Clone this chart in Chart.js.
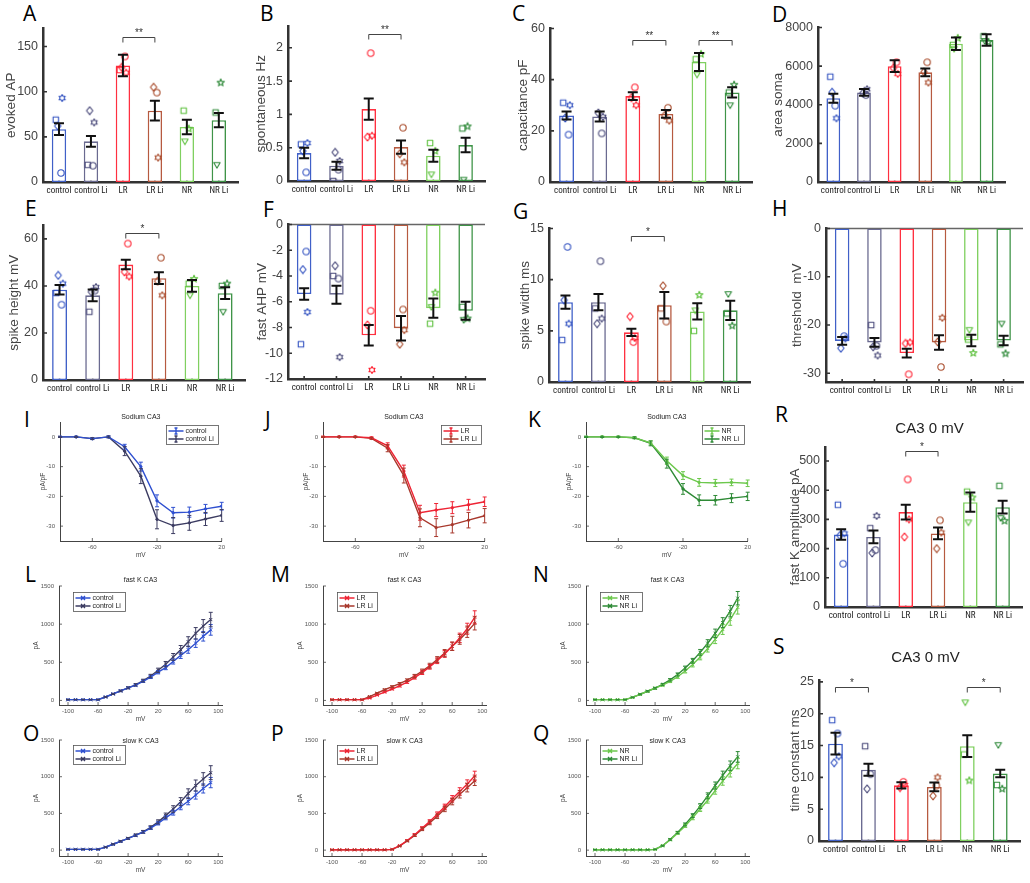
<!DOCTYPE html>
<html>
<head>
<meta charset="utf-8">
<title>CA3 electrophysiology</title>
<script src="https://cdn.jsdelivr.net/npm/chart.js@4.4.1/dist/chart.umd.min.js"></script>
<style>
  body { margin: 0; background: #fff; }
  #fig { position: relative; width: 1030px; height: 883px; overflow: hidden; }
  #fig canvas { position: absolute; }
  .lt { position: absolute; font: 21px/1 'Open Sans', sans-serif; color: #000; }
</style>
</head>
<body>
<div id="fig">
  <div class="lt" style="left:23px;top:3px">A</div>
  <div class="lt" style="left:260px;top:3px">B</div>
  <div class="lt" style="left:512px;top:3px">C</div>
  <div class="lt" style="left:772px;top:4px">D</div>
  <div class="lt" style="left:25px;top:198px">E</div>
  <div class="lt" style="left:263px;top:199px">F</div>
  <div class="lt" style="left:513px;top:201px">G</div>
  <div class="lt" style="left:772px;top:198px">H</div>
  <div class="lt" style="left:24px;top:409px">I</div>
  <div class="lt" style="left:265px;top:409px">J</div>
  <div class="lt" style="left:528px;top:409px">K</div>
  <div class="lt" style="left:25px;top:564px">L</div>
  <div class="lt" style="left:271px;top:564px">M</div>
  <div class="lt" style="left:533px;top:564px">N</div>
  <div class="lt" style="left:23px;top:723px">O</div>
  <div class="lt" style="left:271px;top:723px">P</div>
  <div class="lt" style="left:533px;top:723px">Q</div>
  <div class="lt" style="left:775px;top:404px">R</div>
  <div class="lt" style="left:773px;top:636px">S</div>
</div>
<script>
const groups = ['control', 'control Li', 'LR', 'LR Li', 'NR', 'NR Li'];
const barColors = ['#4060c8', '#6a6a90', '#ff3040', '#b65a40', '#80d060', '#3f9448'];
const markColors = ['#3050c0', '#474778', '#ff2030', '#a84a2a', '#5cc03c', '#2f8a3a'];
// marker of each recorded cell, same order as the values in the *Cells arrays
const cellShapes = [['o', 's', 'd', 'h'], ['o', 's', 'd', 'h'], ['o', 's', 'd', 'h'], ['o', 's', 'd', 'h'], ['s', 'v', 'p'], ['s', 'v', 'p']];

// A evoked AP
const apMean = [58.5, 45, 129, 79, 61, 68.5];
const apSem = [6.5, 6, 12, 11, 8, 8];
const apCells = [[10, 69, 62, 93], [18, 19, 79, 66], [139, 124, 127, 121], [99, null, 105, 27], [79, 45, 59], [77, 19, 110]];
// B spontaneous Hz
const hzMean = [0.42, 0.23, 1.08, 0.51, 0.38, 0.54];
const hzSem = [0.08, 0.06, 0.16, 0.1, 0.09, 0.11];
const hzCells = [[0.13, 0.55, 0.45, 0.57], [0.17, 0, 0.43, 0.3], [1.92, null, 0.66, 0.68], [0.8, null, 0.41, 0.28], [0.57, 0.1, 0.45], [0.79, 0.02, 0.82]];
// C capacitance pF
const capMean = [26, 25.6, 33.6, 26.6, 46.9, 35];
const capSem = [1.6, 2, 1.5, 1.5, 3.5, 2];
const capCells = [[18.5, 31, 25, 30], [19, null, 27, 25.5], [37, null, 33, 30], [29, null, 26, 24], [48, 42, 50], [35, 30, 38]];
// D area soma
const somaMean = [4340, 4640, 6000, 5680, 7160, 7350];
const somaSem = [230, 180, 300, 200, 320, 300];
const somaCells = [[3950, 5450, 4650, 3300], [4500, null, 4600, 4800], [6200, null, 5900, 5600], [6200, null, 5700, 5150], [7100, 6900, 7450], [7550, 7300, 7250]];
// E spike height mV
const heightMean = [38.4, 36, 49.1, 43.3, 40, 36.9];
const heightSem = [2, 2.5, 2, 2.5, 2.5, 2.5];
const heightCells = [[32, 37, 44.5, 41], [38, 29, 37.5, 39.5], [58, null, 46, 44], [52, null, 42, 36], [41, 36, 43], [40, 29, 41]];
// F fast AHP mV
const ahpMean = [-5.4, -5.45, -8.6, -8.05, -6.5, -6.7];
const ahpSem = [0.45, 0.7, 0.8, 0.95, 0.75, 0.7];
const ahpCells = [[-2.1, -9.3, -3.5, -6.8], [-4.2, -4.0, -3.2, -10.3], [-6.7, null, -7.8, -11.3], [-6.6, null, -9.3, -8.2], [-7.7, -6.4, -5.3], [-6.4, -7.4, -7.3]];
// G spike width ms
const widthMean = [7.8, 7.8, 4.85, 7.5, 6.9, 7.0];
const widthSem = [0.65, 0.8, 0.35, 1.3, 0.8, 0.95];
const widthCells = [[13.2, 4.1, 8.0, 5.7], [11.8, 7.2, 5.7, 6.2], [3.9, null, 6.4, 4.3], [5.9, 7.2, 9.4, null], [5.0, 7.0, 8.5], [6.7, 8.6, 5.5]];
// H threshold mV
const threshMean = [-23.3, -23.6, -25.8, -23.6, -23.2, -23.2];
const threshSem = [0.8, 0.9, 0.9, 1.5, 1.2, 1.0];
const threshCells = [[-22.3, null, -24.8, -22.8], [-24.3, -20, -24.5, -26.3], [-30.2, null, -23.8, -23.6], [-28.7, null, -23.5, -18.5], [-23, -21, -25.8], [-24, -19.7, -25.9]];
// R fast K amplitude pA
const fkAmpMean = [248, 240, 325, 252, 359, 342];
const fkAmpSem = [18, 22, 25, 20, 33, 22];
const fkAmpCells = [[148, 350, 245, 252], [195, 270, 185, 312], [437, null, 240, 300], [297, null, 200, 255], [395, 290, 375], [415, 305, 295]];
// S time constant ms
const tauMean = [15.3, 11.2, 8.75, 8.5, 14.9, 10.6];
const tauSem = [1.7, 0.95, 0.5, 0.7, 1.7, 0.6];
const tauCells = [[16.9, 19, 12.3, 13.3], [10.5, 14.9, 8.2, null], [9.3, null, 8.4, 8.8], [8.7, null, 7.1, 10], [13.6, 21.8, 9.5], [8.8, 15.1, 8.2]];

// I-K sodium current density (pA/pF)
const naV = [-80, -70, -60, -50, -40, -30, -20, -10, 0, 10, 20];
const naControl = [0, 0, -0.6, 0, -3.3, -10, -21.5, -25.5, -25.3, -24.2, -23.3];
const naControlErr = [0.2, 0.2, 0.3, 0.3, 0.8, 1.5, 2, 1.8, 1.7, 1.5, 1.3];
const naControlLi = [0, 0, -0.6, 0, -4.8, -13.2, -27.7, -29.8, -28.9, -27.6, -26.4];
const naControlLiErr = [0.2, 0.2, 0.3, 0.3, 1.5, 2.5, 3.2, 2.7, 2.5, 2.2, 2];
const naLR = [0, 0, 0, -0.3, -3, -11.5, -25.5, -24.6, -23.8, -22.8, -21.8];
const naLRErr = [0.2, 0.2, 0.2, 0.3, 1, 2, 2.5, 2.2, 2, 1.8, 1.6];
const naLRLi = [0, 0, 0, -0.5, -3.8, -13, -27.2, -30.5, -29.5, -28, -26.5];
const naLRLiErr = [0.2, 0.2, 0.2, 0.3, 1.2, 2.5, 3, 3, 2.8, 2.6, 2.4];
const naNR = [0, 0, 0, -0.3, -2, -8, -13, -15.3, -15.5, -15.3, -15.6];
const naNRErr = [0.2, 0.2, 0.2, 0.3, 0.7, 1.2, 1.3, 1.3, 1.2, 1.1, 1.1];
const naNRLi = [0, 0, 0, -0.3, -2.2, -9, -17.5, -21.3, -21.3, -20.6, -20];
const naNRLiErr = [0.2, 0.2, 0.2, 0.3, 0.8, 1.5, 1.8, 1.8, 1.6, 1.5, 1.4];

// L-Q potassium currents (pA)
const kV = [-100, -90, -80, -70, -60, -50, -40, -30, -20, -10, 0, 10, 20, 30, 40, 50, 60, 70, 80, 90];
const fkControl = [10, 10, 10, 10, 10, 45, 85, 125, 165, 200, 250, 305, 370, 430, 510, 590, 665, 750, 840, 925];
const fkControlErr = [3, 3, 3, 3, 3, 5, 7, 9, 11, 13, 15, 18, 22, 27, 33, 40, 47, 55, 62, 70];
const fkControlLi = [10, 10, 10, 10, 10, 45, 85, 125, 165, 205, 260, 320, 395, 475, 570, 665, 770, 880, 975, 1060];
const fkControlLiErr = [3, 3, 3, 3, 3, 5, 8, 10, 12, 15, 18, 22, 28, 35, 45, 55, 65, 75, 85, 95];
const fkLR = [10, 10, 10, 10, 10, 30, 70, 110, 150, 190, 240, 300, 365, 440, 520, 610, 710, 820, 940, 1090];
const fkLRErr = [3, 3, 3, 3, 3, 5, 7, 9, 11, 13, 16, 20, 25, 30, 37, 45, 53, 62, 72, 85];
const fkLRLi = [10, 10, 10, 10, 10, 50, 95, 140, 180, 220, 265, 320, 385, 455, 535, 620, 710, 800, 900, 1010];
const fkLRLiErr = [3, 3, 3, 3, 3, 6, 8, 10, 12, 14, 17, 21, 26, 32, 39, 47, 55, 64, 74, 86];
const fkNR = [10, 10, 10, 10, 10, 40, 80, 120, 160, 200, 250, 310, 385, 470, 570, 680, 800, 930, 1060, 1220];
const fkNRErr = [3, 3, 3, 3, 3, 5, 7, 9, 11, 13, 16, 20, 25, 31, 38, 46, 55, 65, 75, 88];
const fkNRLi = [10, 10, 10, 10, 10, 40, 80, 120, 160, 210, 270, 340, 425, 520, 630, 750, 880, 1020, 1170, 1340];
const fkNRLiErr = [3, 3, 3, 3, 3, 5, 7, 9, 11, 13, 16, 20, 25, 31, 38, 46, 55, 65, 75, 88];
const skControl = [10, 10, 10, 10, 10, 40, 80, 120, 160, 200, 245, 300, 365, 440, 510, 590, 665, 750, 840, 920];
const skControlErr = [3, 3, 3, 3, 3, 5, 7, 9, 11, 13, 15, 18, 22, 27, 33, 40, 47, 55, 62, 70];
const skControlLi = [10, 10, 10, 10, 10, 40, 80, 120, 160, 205, 250, 310, 385, 470, 560, 660, 770, 880, 970, 1055];
const skControlLiErr = [3, 3, 3, 3, 3, 5, 8, 10, 12, 15, 18, 22, 28, 35, 45, 55, 65, 75, 85, 95];
const skLR = [5, 5, 5, 5, 5, 5, 5, 5, 10, 60, 130, 210, 300, 390, 490, 590, 700, 800, 900, 1010];
const skLRErr = [2, 2, 2, 2, 2, 2, 2, 2, 3, 6, 10, 14, 19, 24, 30, 36, 43, 50, 57, 65];
const skLRLi = [5, 5, 5, 5, 5, 5, 5, 5, 10, 55, 125, 200, 285, 370, 460, 560, 660, 760, 850, 945];
const skLRLiErr = [2, 2, 2, 2, 2, 2, 2, 2, 3, 6, 10, 14, 19, 24, 30, 36, 43, 50, 57, 65];
const skNR = [5, 5, 5, 5, 5, 5, 5, 5, 10, 60, 140, 230, 330, 440, 560, 680, 810, 940, 1060, 1180];
const skNRErr = [2, 2, 2, 2, 2, 2, 2, 2, 3, 6, 10, 15, 20, 26, 33, 40, 48, 56, 64, 72];
const skNRLi = [5, 5, 5, 5, 5, 5, 5, 5, 10, 60, 145, 240, 350, 470, 600, 740, 880, 1020, 1150, 1270];
const skNRLiErr = [2, 2, 2, 2, 2, 2, 2, 2, 3, 6, 10, 15, 20, 26, 33, 40, 48, 56, 64, 72];

const lineColors = {'control': '#2f50d0', 'control Li': '#3c3c62', 'LR': '#ee2434', 'LR Li': '#a8382c', 'NR': '#6cc84c', 'NR Li': '#2e8a36'};
const jitter = {o: 0.06, s: -0.1, d: -0.04, h: 0.1, v: -0.06, p: 0.06};
const AX = '#333';
const FONT = "'Liberation Sans', Arial, sans-serif";
const NARROW = "'Liberation Sans Narrow', 'Roboto Condensed', Roboto, sans-serif";

Chart.defaults.font.family = FONT;
Chart.defaults.animation = false;
Chart.defaults.events = [];
Chart.defaults.plugins.legend.display = false;
Chart.defaults.plugins.tooltip.enabled = false;

const fig = document.getElementById('fig');

function place(left, top, w, h) {
    const cv = document.createElement('canvas');
    cv.width = w;
    cv.height = h;
    cv.style.left = left + 'px';
    cv.style.top = top + 'px';
    cv.style.width = w + 'px';
    cv.style.height = h + 'px';
    fig.appendChild(cv);
    return cv;
}

function starPath(g, cx, cy, n, ro, ri) {
    for (let k = 0; k < 2 * n; k++) {
        const a = -Math.PI / 2 + k * Math.PI / n;
        const r = k % 2 ? ri : ro;
        const px = cx + r * Math.cos(a), py = cy + r * Math.sin(a);
        k ? g.lineTo(px, py) : g.moveTo(px, py);
    }
    g.closePath();
}

// small MATLAB-like open markers drawn once and handed to Chart.js as point images
function marker(shape, color) {
    const c = document.createElement('canvas');
    c.width = c.height = 10;
    const g = c.getContext('2d');
    const m = 5, r = 3.2;
    g.strokeStyle = color;
    g.lineWidth = 1.1;
    g.lineJoin = 'round';
    g.beginPath();
    if (shape === 'o') g.arc(m, m, r, 0, 2 * Math.PI);
    else if (shape === 's') g.rect(m - r + 0.5, m - r + 0.5, 2 * r - 1, 2 * r - 1);
    else if (shape === 'd') {
        g.moveTo(m, m - r - 0.6); g.lineTo(m + r, m); g.lineTo(m, m + r + 0.6); g.lineTo(m - r, m); g.closePath();
    } else if (shape === 'v') {
        g.moveTo(m - r, m - r * 0.7); g.lineTo(m + r, m - r * 0.7); g.lineTo(m, m + r); g.closePath();
    } else if (shape === 'h') starPath(g, m, m, 6, r + 0.3, (r + 0.3) * 0.58);
    else if (shape === 'p') starPath(g, m, m, 5, r + 0.6, (r + 0.6) * 0.42);
    g.stroke();
    return c;
}

function barDecor(p) {
    return {
        id: 'barDecor',
        beforeDatasetsDraw(chart) {
            const {ctx, chartArea: a, scales: {x, y}} = chart;
            ctx.save();
            if (p.min < 0) {
                ctx.strokeStyle = '#666';
                ctx.lineWidth = 1.3;
                const z = y.getPixelForValue(0);
                ctx.beginPath(); ctx.moveTo(a.left, z); ctx.lineTo(a.right, z); ctx.stroke();
            }
            ctx.strokeStyle = AX;
            ctx.lineWidth = 1.6;
            ctx.beginPath();
            p.ticks.forEach(v => {
                const py = y.getPixelForValue(v);
                ctx.moveTo(a.left, py); ctx.lineTo(a.left + 4, py);
            });
            groups.forEach((g, i) => {
                const px = x.getPixelForValue(i + 1);
                ctx.moveTo(px, a.bottom); ctx.lineTo(px, a.bottom - 3);
            });
            ctx.stroke();
            ctx.restore();
        },
        afterDatasetsDraw(chart) {
            const {ctx, chartArea: a, scales: {x, y}} = chart;
            ctx.save();
            // error bars (SEM)
            ctx.strokeStyle = '#111';
            ctx.lineWidth = 2;
            ctx.beginPath();
            p.mean.forEach((m, i) => {
                const px = x.getPixelForValue(i + 1);
                const t = y.getPixelForValue(m + p.sem[i]), b = y.getPixelForValue(m - p.sem[i]);
                ctx.moveTo(px, t); ctx.lineTo(px, b);
                ctx.moveTo(px - 5, t); ctx.lineTo(px + 5, t);
                ctx.moveTo(px - 5, b); ctx.lineTo(px + 5, b);
            });
            ctx.stroke();
            // significance brackets
            ctx.strokeStyle = '#444';
            ctx.fillStyle = '#333';
            ctx.lineWidth = 1;
            ctx.font = '10px ' + FONT;
            ctx.textAlign = 'center';
            ctx.textBaseline = 'alphabetic';
            (p.brackets || []).forEach(([g1, g2, v, txt]) => {
                const x1 = x.getPixelForValue(g1), x2 = x.getPixelForValue(g2), py = Math.round(y.getPixelForValue(v)) + 0.5;
                ctx.beginPath();
                ctx.moveTo(x1, py + 5); ctx.lineTo(x1, py); ctx.lineTo(x2, py); ctx.lineTo(x2, py + 5);
                ctx.stroke();
                ctx.fillText(txt, (x1 + x2) / 2, py - 2);
            });
            if (p.title) {
                ctx.fillStyle = '#222';
                ctx.font = '15px ' + FONT;
                ctx.textBaseline = 'middle';
                ctx.fillText(p.title, (a.left + a.right) / 2 + 6, a.top - p.titleOff);
            }
            ctx.restore();
        }
    };
}

function barPanel(p) {
    const TOP = p.title ? 32 : 6, XH = 17, RP = 5;
    const w = p.x1 - p.x0 + p.yw + RP, h = p.y1 - p.y0 + TOP + XH;
    const cv = place(p.x0 - p.yw, p.y0 - TOP, w, h);
    const datasets = [{
        type: 'bar',
        order: 2,
        data: p.mean.map((m, i) => ({x: i + 1, y: m})),
        backgroundColor: '#fff',
        borderColor: barColors,
        borderWidth: 1.6,
        borderSkipped: false,
        barPercentage: 0.45,
        categoryPercentage: 1
    }];
    p.cells.forEach((vals, g) => {
        const data = [], style = [];
        vals.forEach((v, k) => {
            if (v === null) return;
            const sh = cellShapes[g][k];
            data.push({x: g + 1 + jitter[sh], y: v});
            style.push(marker(sh, markColors[g]));
        });
        datasets.push({type: 'scatter', order: 1, data, pointStyle: style, pointRadius: 4, borderWidth: 0});
    });
    new Chart(cv, {
        type: 'bar',
        data: {datasets},
        options: {
            responsive: false,
            layout: {padding: {top: TOP, right: RP, left: 0, bottom: 0}},
            scales: {
                x: {
                    type: 'linear', min: 0.5, max: 6.6, offset: false,
                    grid: {display: false, drawTicks: false, offset: false},
                    border: {display: true, color: AX, width: 2.5},
                    afterBuildTicks: s => { s.ticks = groups.map((g, i) => ({value: i + 1})); },
                    afterFit: s => { s.height = XH; },
                    ticks: {
                        callback: v => groups[v - 1], color: '#222', padding: 3,
                        font: {size: 9, family: NARROW}, maxRotation: 0, autoSkip: false
                    }
                },
                y: {
                    min: p.min, max: p.max,
                    grid: {display: false, drawTicks: false},
                    border: {display: true, color: AX, width: 2.5},
                    afterBuildTicks: s => { s.ticks = p.ticks.map(v => ({value: v})); },
                    afterFit: s => { s.width = p.yw; },
                    ticks: {callback: v => String(v), color: '#444', padding: 5, font: {size: 12.5}},
                    title: {display: true, text: p.label, color: '#444', padding: 0, font: {size: 13.5}}
                }
            }
        },
        plugins: [barDecor(p)]
    });
}

function lineDecor(p) {
    return {
        id: 'lineDecor',
        beforeDatasetsDraw(chart) {
            const {ctx, chartArea: a, scales: {x, y}} = chart;
            ctx.save();
            ctx.strokeStyle = '#444';
            ctx.lineWidth = 0.8;
            ctx.beginPath();
            p.yticks.forEach(v => { const py = y.getPixelForValue(v); ctx.moveTo(a.left, py); ctx.lineTo(a.left + 3, py); });
            p.xticks.forEach(v => { const px = x.getPixelForValue(v); ctx.moveTo(px, a.bottom); ctx.lineTo(px, a.bottom - 3); });
            ctx.stroke();
            ctx.restore();
        },
        afterDatasetsDraw(chart) {
            const {ctx, chartArea: a, scales: {x, y}} = chart;
            ctx.save();
            chart.data.datasets.forEach(ds => {
                ctx.strokeStyle = ds.borderColor;
                ctx.lineWidth = 1;
                ctx.beginPath();
                ds.data.forEach((pt, i) => {
                    const px = x.getPixelForValue(pt.x), e = ds.err[i];
                    const t = y.getPixelForValue(pt.y + e), b = y.getPixelForValue(pt.y - e);
                    ctx.moveTo(px, t); ctx.lineTo(px, b);
                    ctx.moveTo(px - 2, t); ctx.lineTo(px + 2, t);
                    ctx.moveTo(px - 2, b); ctx.lineTo(px + 2, b);
                });
                ctx.stroke();
            });
            // title
            ctx.fillStyle = '#222';
            ctx.font = '7px ' + FONT;
            ctx.textAlign = 'center';
            ctx.textBaseline = 'middle';
            ctx.fillText(p.title, (a.left + a.right) / 2, a.top + p.titleOff);
            // legend box
            ctx.textAlign = 'left';
            const tw = Math.max(...p.series.map(s => ctx.measureText(s.label).width));
            const bw = Math.round(20 + tw + 4), bh = p.series.length * 8 + 3;
            const bx = Math.round(p.legendRight ? a.right - 4 - bw : a.left + 14) + 0.5;
            const by = Math.round(a.top + p.legendTop) + 0.5;
            ctx.fillStyle = '#fff';
            ctx.fillRect(bx, by, bw, bh);
            ctx.strokeStyle = '#555';
            ctx.lineWidth = 0.8;
            ctx.strokeRect(bx, by, bw, bh);
            p.series.forEach((s, i) => {
                const ly = by + 5.5 + i * 8;
                ctx.strokeStyle = s.color;
                ctx.lineWidth = 1.4;
                ctx.beginPath();
                ctx.moveTo(bx + 2, ly); ctx.lineTo(bx + 17, ly);
                if (p.pointStyle === 'crossRot') {
                    ctx.moveTo(bx + 7.5, ly - 2); ctx.lineTo(bx + 11.5, ly + 2);
                    ctx.moveTo(bx + 7.5, ly + 2); ctx.lineTo(bx + 11.5, ly - 2);
                } else {
                    ctx.moveTo(bx + 9.5, ly - 3); ctx.lineTo(bx + 9.5, ly + 3);
                    ctx.moveTo(bx + 8, ly - 3); ctx.lineTo(bx + 11, ly - 3);
                    ctx.moveTo(bx + 8, ly + 3); ctx.lineTo(bx + 11, ly + 3);
                }
                ctx.stroke();
                ctx.fillStyle = '#222';
                ctx.fillText(s.label, bx + 19, ly);
            });
            ctx.restore();
        }
    };
}

function linePanel(p) {
    const TOP = 14, XH = 18, RP = 6;
    const w = p.x1 - p.x0 + p.yw + RP, h = p.y1 - p.y0 + TOP + XH;
    const cv = place(p.x0 - p.yw, p.y0 - TOP, w, h);
    const datasets = p.series.map(s => ({
        label: s.label,
        data: p.xs.map((v, i) => ({x: v, y: s.y[i]})),
        err: s.err,
        borderColor: s.color,
        backgroundColor: s.color,
        borderWidth: 1.4,
        pointStyle: p.pointStyle,
        pointRadius: p.pointRadius,
        pointBorderWidth: 1,
        tension: 0
    }));
    const axisFont = {size: 6};
    new Chart(cv, {
        type: 'line',
        data: {datasets},
        options: {
            responsive: false,
            layout: {padding: {top: TOP, right: RP, left: 0, bottom: 0}},
            scales: {
                x: {
                    type: 'linear', min: p.xmin, max: p.xmax,
                    grid: {display: false, drawTicks: false},
                    border: {display: true, color: '#444', width: 1},
                    afterBuildTicks: s => { s.ticks = p.xticks.map(v => ({value: v})); },
                    afterFit: s => { s.height = XH; },
                    ticks: {callback: v => String(v), color: '#555', padding: 3, font: axisFont, maxRotation: 0, autoSkip: false},
                    title: {display: true, text: 'mV', color: '#444', padding: 0, font: {size: 6.5}}
                },
                y: {
                    min: p.ymin, max: p.ymax,
                    grid: {display: false, drawTicks: false},
                    border: {display: true, color: '#444', width: 1},
                    afterBuildTicks: s => { s.ticks = p.yticks.map(v => ({value: v})); },
                    afterFit: s => { s.width = p.yw; },
                    ticks: {callback: v => String(v), color: '#555', padding: 5, font: axisFont},
                    title: {display: true, text: p.ylab, color: '#444', padding: 0, font: {size: 6.5}}
                }
            }
        },
        plugins: [lineDecor(p)]
    });
}

function ser(label, y, err) {
    return {label, y, err, color: lineColors[label]};
}

// bar panels
barPanel({x0: 43, x1: 238, y0: 22, y1: 182, min: 0, max: 170, ticks: [0, 50, 100, 150], label: 'evoked AP', yw: 40,
    mean: apMean, sem: apSem, cells: apCells, brackets: [[3, 4, 161, '**']]});
barPanel({x0: 288, x1: 485, y0: 20, y1: 181, min: 0, max: 2.32, ticks: [0, 0.5, 1, 1.5, 2], label: 'spontaneous Hz', yw: 35,
    mean: hzMean, sem: hzSem, cells: hzCells, brackets: [[3, 4, 2.2, '**']]});
barPanel({x0: 550, x1: 752, y0: 22, y1: 182, min: 0, max: 60, ticks: [0, 20, 40, 60], label: 'capacitance pF', yw: 35,
    mean: capMean, sem: capSem, cells: capCells, brackets: [[3, 4, 55.5, '**'], [5, 6, 55.5, '**']]});
barPanel({x0: 818, x1: 1005, y0: 21, y1: 182, min: 0, max: 8000, ticks: [0, 2000, 4000, 6000, 8000], label: 'area soma', yw: 48,
    mean: somaMean, sem: somaSem, cells: somaCells});
barPanel({x0: 43, x1: 245, y0: 219, y1: 380, min: 0, max: 65.7, ticks: [0, 20, 40, 60], label: 'spike height mV', yw: 37,
    mean: heightMean, sem: heightSem, cells: heightCells, brackets: [[3, 4, 62.4, '*']]});
barPanel({x0: 288, x1: 485, y0: 218, y1: 379, min: -12, max: 0, ticks: [0, -2, -4, -6, -8, -10, -12], label: 'fast AHP mV', yw: 34,
    mean: ahpMean, sem: ahpSem, cells: ahpCells});
barPanel({x0: 549, x1: 750, y0: 222, y1: 382, min: 0, max: 15, ticks: [0, 5, 10, 15], label: 'spike width ms', yw: 32,
    mean: widthMean, sem: widthSem, cells: widthCells, brackets: [[3, 4, 14.25, '*']]});
barPanel({x0: 826, x1: 1023, y0: 222, y1: 382, min: -31.8, max: 0, ticks: [0, -10, -20, -30], label: 'threshold  mV', yw: 37,
    mean: threshMean, sem: threshSem, cells: threshCells});
barPanel({x0: 825, x1: 1022, y0: 447, y1: 607, min: 0, max: 548, ticks: [0, 100, 200, 300, 400, 500], label: 'fast K amplitude pA', yw: 38,
    mean: fkAmpMean, sem: fkAmpSem, cells: fkAmpCells, brackets: [[3, 4, 534, '*']], title: 'CA3 0 mV', titleOff: 18});
barPanel({x0: 819, x1: 1020, y0: 680, y1: 841, min: 0, max: 25.3, ticks: [0, 5, 10, 15, 20, 25], label: 'time constant ms', yw: 32,
    mean: tauMean, sem: tauSem, cells: tauCells, brackets: [[1, 2, 24.2, '*'], [5, 6, 24.2, '*']], title: 'CA3 0 mV', titleOff: 22});

// sodium IV curves
const naBase = {y0: 422, y1: 541, xmin: -80, xmax: 20, ymin: -35, ymax: 5, xticks: [-60, -20, 20], yticks: [0, -10, -20, -30],
    xs: naV, ylab: 'pA/pF', yw: 21, title: 'Sodium CA3', titleOff: -5, legendRight: true, legendTop: 3, pointStyle: 'circle', pointRadius: 1.2};
linePanel({...naBase, x0: 60, x1: 222, series: [ser('control', naControl, naControlErr), ser('control Li', naControlLi, naControlLiErr)]});
linePanel({...naBase, x0: 323, x1: 485, series: [ser('LR', naLR, naLRErr), ser('LR Li', naLRLi, naLRLiErr)]});
linePanel({...naBase, x0: 586, x1: 748, series: [ser('NR', naNR, naNRErr), ser('NR Li', naNRLi, naNRLiErr)]});

// potassium IV curves
const fastBase = {y0: 586, y1: 705, xmin: -112, xmax: 105, ymin: -60, ymax: 1500, xticks: [-100, -60, -20, 20, 60, 100], yticks: [0, 500, 1000, 1500],
    xs: kV, ylab: 'pA', yw: 27, title: 'fast K CA3', titleOff: -6, legendRight: false, legendTop: 6, pointStyle: 'crossRot', pointRadius: 2.2};
linePanel({...fastBase, x0: 59, x1: 222, series: [ser('control', fkControl, fkControlErr), ser('control Li', fkControlLi, fkControlLiErr)]});
linePanel({...fastBase, x0: 323, x1: 486, series: [ser('LR', fkLR, fkLRErr), ser('LR Li', fkLRLi, fkLRLiErr)]});
linePanel({...fastBase, x0: 586, x1: 749, series: [ser('NR', fkNR, fkNRErr), ser('NR Li', fkNRLi, fkNRLiErr)]});

const slowBase = {...fastBase, y0: 740, y1: 856, ymin: -80, title: 'slow K CA3', titleOff: 1, legendTop: 5};
linePanel({...slowBase, x0: 59, x1: 222, series: [ser('control', skControl, skControlErr), ser('control Li', skControlLi, skControlLiErr)]});
linePanel({...slowBase, x0: 323, x1: 486, series: [ser('LR', skLR, skLRErr), ser('LR Li', skLRLi, skLRLiErr)]});
linePanel({...slowBase, x0: 586, x1: 749, series: [ser('NR', skNR, skNRErr), ser('NR Li', skNRLi, skNRLiErr)]});
</script>
</body>
</html>
